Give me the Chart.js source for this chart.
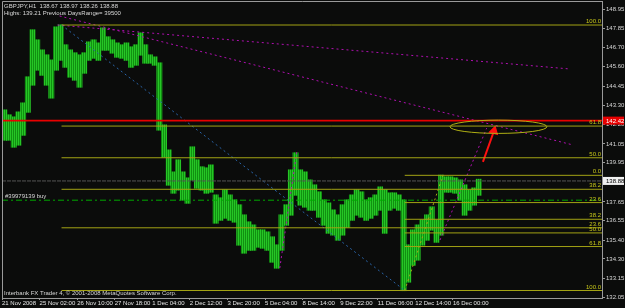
<!DOCTYPE html>
<html>
<head>
<meta charset="utf-8">
<script src="https://cdn.jsdelivr.net/npm/chart.js@4.4.0/dist/chart.umd.min.js"></script>
<style>
  html, body { margin: 0; padding: 0; background: #0b0c0b; }
  #wrap { position: relative; width: 625px; height: 308px; }
</style>
</head>
<body>
<div id="wrap"><canvas id="chart" width="625" height="308"></canvas></div>
<script>
// GBPJPY H1, x = bar index counted from 21 Nov 2008, one column = 4 bars
const colHigh = [
  143.04, 142.75, 142.63, 142.92, 143.45, 144.98, 147.74, 147.15, 146.56, 146.27,
  145.97, 147.91, 148.03, 146.86, 146.56, 146.39, 146.27, 146.39, 147.03, 147.15,
  146.97, 147.85, 147.33, 147.15, 146.97, 146.86, 146.97, 146.74, 146.86, 147.56,
  146.86, 146.27, 146.15, 145.80, 142.16, 140.69, 139.40, 140.11, 139.40, 139.05,
  140.87, 140.11, 139.70, 139.64, 139.81, 138.05, 137.88, 138.35, 138.05, 137.76,
  137.47, 136.88, 136.47, 136.29, 136.00, 136.00, 135.88, 135.59, 135.12, 136.88,
  137.47, 139.52, 140.52, 139.52, 139.40, 138.93, 138.64, 138.23, 137.76, 137.58,
  137.17, 136.88, 137.47, 137.76, 138.05, 138.35, 138.23, 137.76, 137.88, 138.05,
  138.52, 138.35, 138.17, 138.17, 138.05, 137.76, 135.12, 136.00, 136.29, 136.58,
  136.88, 137.35, 136.58, 139.21, 139.11, 139.11, 139.05, 138.93, 138.64, 138.35,
  138.46, 138.97
];
const colLow = [
  141.28, 141.28, 140.87, 140.99, 141.57, 142.92, 144.51, 145.39, 145.09, 144.51,
  143.75, 145.39, 145.97, 145.56, 144.98, 144.80, 144.39, 145.21, 145.97, 146.09,
  145.97, 146.56, 146.56, 146.39, 146.15, 146.09, 145.97, 145.56, 145.68, 146.27,
  145.80, 145.80, 145.68, 141.87, 140.28, 138.64, 138.17, 138.35, 137.76, 137.58,
  138.93, 138.46, 138.35, 138.17, 138.23, 136.41, 136.58, 136.70, 136.58, 136.47,
  135.12, 134.65, 134.82, 134.82, 135.00, 134.94, 134.82, 134.12, 133.77, 134.82,
  136.29, 136.88, 138.05, 137.47, 137.35, 137.17, 137.17, 136.76, 136.29, 135.82,
  135.71, 135.41, 135.71, 136.17, 136.58, 136.88, 136.76, 136.58, 136.70, 136.88,
  137.17, 135.82, 137.17, 137.29, 137.17, 132.45, 132.95, 133.94, 134.24, 135.12,
  135.41, 136.00, 135.29, 135.71, 138.23, 138.23, 138.17, 137.76, 136.88, 137.17,
  137.47, 138.05
];
const BARS_PER_COL = 4;

const timeBars = [0, 32, 64, 96, 128, 160, 192, 224, 256, 288, 320, 352, 384];
const timeLabels = ['21 Nov 2008', '25 Nov 02:00', '26 Nov 10:00', '27 Nov 18:00', '1 Dec 04:00',
  '2 Dec 12:00', '3 Dec 20:00', '5 Dec 04:00', '8 Dec 14:00', '9 Dec 22:00', '11 Dec 06:00',
  '12 Dec 14:00', '16 Dec 00:00'];
const priceTicks = [148.95, 147.85, 146.70, 145.60, 144.45, 143.30, 142.20, 141.05, 139.95,
  137.65, 136.55, 135.40, 134.30, 133.15, 132.05];

// fibonacci sets (level text, price), drawn from the first anchor bar to the right
const fibALevels = ['100.0', '61.8', '50.0', '38.2', '23.6', '0.0'];
const fibAPrices = [148.03, 142.10, 140.24, 138.39, 136.13, 132.45];
const fibAStart = 50.7;
const fibBLevels = ['0.0', '23.6', '38.2', '50.0', '61.8', '100.0'];
const fibBPrices = [139.21, 137.61, 136.63, 135.83, 135.03, 132.45];
const fibBStart = 343;

// trend lines: [bar, price] pairs
const trendBlue = [[50.7, 148.03], [343, 132.45]];
const trendFibB = [[343, 132.45], [375.5, 139.21]];
const trendMagenta1 = [[47.3, 148.03], [483.8, 145.45]];
const trendMagenta2 = [[49, 148.56], [486.4, 140.99]];
const trendMagenta3 = [[236.6, 133.77], [251, 140.57]];
const trendMagenta4 = [[373, 135.41], [412.8, 141.98]];
const arrowLine = [[409.6, 140.0], [419, 141.81]];
const ellipseObj = [422.8, 142.06, 41.3, 0.39]; // centre bar, centre price, radius bars, radius price

const redLevel = 142.42;
const bidPrice = 138.88;
const orderPrice = 137.75;
const orderText = '#39979139 buy';
const header1 = 'GBPJPY,H1  138.67 138.97 138.26 138.88';
const header2 = 'Highs: 139.21 Previous DaysRange= 39500';
const footer = 'Interbank FX Trader 4, \u00a9 2001-2008 MetaQuotes Software Corp.';

const X_MAX = 511;
const Y_MIN = 132.01, Y_MAX = 149.44;
const FONT = 'Liberation Sans';

const canvas = document.getElementById('chart');
const ctx = canvas.getContext('2d');

// striped fill so the columns look like packed candles
const pc = document.createElement('canvas');
pc.width = 2; pc.height = 1;
const pctx = pc.getContext('2d');
['#26c626', '#119011'].forEach((c, i) => { pctx.fillStyle = c; pctx.fillRect(i, 0, 1, 1); });
const barFill = ctx.createPattern(pc, 'repeat');

function seg(points, color, dash, width) {
  return {
    type: 'line',
    data: points.map(p => ({ x: p[0], y: p[1] })),
    borderColor: color,
    borderWidth: width || 1,
    borderDash: dash || [],
    pointRadius: 0,
    fill: false,
    order: 1
  };
}

const datasets = [];
datasets.push({
  type: 'bar',
  data: colHigh.map((h, k) => ({ x: k * BARS_PER_COL + BARS_PER_COL / 2, y: [colLow[k], h] })),
  backgroundColor: barFill,
  borderWidth: 0,
  barPercentage: 1,
  categoryPercentage: 1,
  inflateAmount: 0.6,
  order: 10
});

const fibColor = '#a3a314';
fibAPrices.forEach(p => datasets.push(seg([[fibAStart, p], [X_MAX, p]], fibColor)));
fibBPrices.forEach(p => datasets.push(seg([[fibBStart, p], [X_MAX, p]], fibColor)));
datasets.push(seg([[0, redLevel], [X_MAX, redLevel]], '#e80000', [], 1.6));
datasets.push(seg([[0, bidPrice], [X_MAX, bidPrice]], '#555555', [4, 1]));
datasets.push(seg([[0, orderPrice], [X_MAX, orderPrice]], '#00a800', [6, 3, 2, 3]));
datasets.push(seg(trendBlue, '#2a64a8', [2, 3]));
datasets.push(seg(trendFibB, '#a8a814', [2, 3]));
datasets.push(seg(trendMagenta1, '#b010b0', [2, 3]));
datasets.push(seg(trendMagenta2, '#b010b0', [2, 3]));
datasets.push(seg(trendMagenta3, '#b010b0', [2, 3]));
datasets.push(seg(trendMagenta4, '#b010b0', [2, 3]));
const arrow = seg(arrowLine, '#ff1010', [], 2);
arrow.pointRadius = [0, 4];
arrow.pointStyle = 'triangle';
arrow.pointRotation = [0, 15];
arrow.pointBackgroundColor = '#ff1010';
arrow.pointBorderColor = '#ff1010';
datasets.push(arrow);

const overlay = {
  id: 'overlay',
  afterDraw(chart) {
    const { ctx, chartArea: a, scales: { x, y } } = chart;
    ctx.save();
    // frame top / left
    ctx.strokeStyle = '#9a9a9a';
    ctx.lineWidth = 1;
    ctx.beginPath();
    ctx.moveTo(a.left + 0.5, a.bottom);
    ctx.lineTo(a.left + 0.5, a.top + 0.5);
    ctx.lineTo(a.right, a.top + 0.5);
    ctx.stroke();

    // ellipse
    const cx = x.getPixelForValue(ellipseObj[0]);
    const cy = y.getPixelForValue(ellipseObj[1]);
    const rx = Math.abs(x.getPixelForValue(ellipseObj[0] + ellipseObj[2]) - cx);
    const ry = Math.abs(y.getPixelForValue(ellipseObj[1] + ellipseObj[3]) - cy);
    ctx.strokeStyle = '#b0b014';
    ctx.beginPath();
    ctx.ellipse(cx, cy, rx, ry, 0, 0, Math.PI * 2);
    ctx.stroke();

    // fibo level texts
    ctx.font = '6px "' + FONT + '"';
    ctx.fillStyle = '#c8c81a';
    ctx.textAlign = 'right';
    ctx.textBaseline = 'bottom';
    fibALevels.forEach((t, i) => {
      if (i === fibALevels.length - 1) return;
      ctx.fillText(t, a.right - 1, y.getPixelForValue(fibAPrices[i]) - 0.5);
    });
    fibBLevels.forEach((t, i) => ctx.fillText(t, a.right - 1, y.getPixelForValue(fibBPrices[i]) - 0.5));

    // texts
    ctx.fillStyle = '#d8d8d8';
    ctx.textAlign = 'left';
    ctx.textBaseline = 'middle';
    ctx.fillText(header1, 4, 6);
    ctx.fillText(header2, 4, 13);
    ctx.fillText(footer, 4, 293);
    ctx.fillText(orderText, 5, y.getPixelForValue(orderPrice) - 3.5);

    // price boxes on the axis
    const box = (val, bg, fg) => {
      const py = y.getPixelForValue(val);
      ctx.fillStyle = bg;
      ctx.fillRect(a.right + 1, py - 4, 21, 8);
      ctx.fillStyle = fg;
      ctx.fillText(val.toFixed(2), a.right + 4, py + 0.5);
    };
    box(redLevel, '#e80000', '#ffffff');
    box(bidPrice, '#f0f0f0', '#000000');
    ctx.restore();
  }
};

new Chart(canvas, {
  type: 'bar',
  data: { datasets },
  options: {
    responsive: false,
    animation: false,
    events: [],
    layout: { autoPadding: false, padding: { left: 2, top: 1, right: 0, bottom: 0 } },
    plugins: { legend: { display: false }, tooltip: { enabled: false } },
    scales: {
      x: {
        type: 'linear', min: 0, max: X_MAX, offset: false,
        grid: { display: true, drawOnChartArea: false, drawTicks: true, tickLength: 2, color: '#9a9a9a', offset: false },
        border: { display: true, color: '#9a9a9a' },
        afterBuildTicks: s => { s.ticks = timeBars.map(v => ({ value: v })); },
        afterFit: s => { s.height = 10; s.paddingLeft = 0; s.paddingRight = 0; },
        ticks: {
          autoSkip: false, maxRotation: 0, minRotation: 0, align: 'start', padding: 0,
          color: '#e6e6e6', font: { family: FONT, size: 6 },
          callback: (v, i) => timeLabels[i]
        }
      },
      y: {
        position: 'right', min: Y_MIN, max: Y_MAX,
        grid: { display: true, drawOnChartArea: false, drawTicks: true, tickLength: 3, color: '#9a9a9a' },
        border: { display: true, color: '#9a9a9a' },
        afterBuildTicks: s => { s.ticks = priceTicks.map(v => ({ value: v })); },
        afterFit: s => { s.width = 23; s.paddingTop = 0; s.paddingBottom = 0; },
        ticks: {
          padding: 1, color: '#d8d8d8', font: { family: FONT, size: 6 },
          callback: v => v.toFixed(2)
        }
      }
    }
  },
  plugins: [overlay]
});
</script>
</body>
</html>
